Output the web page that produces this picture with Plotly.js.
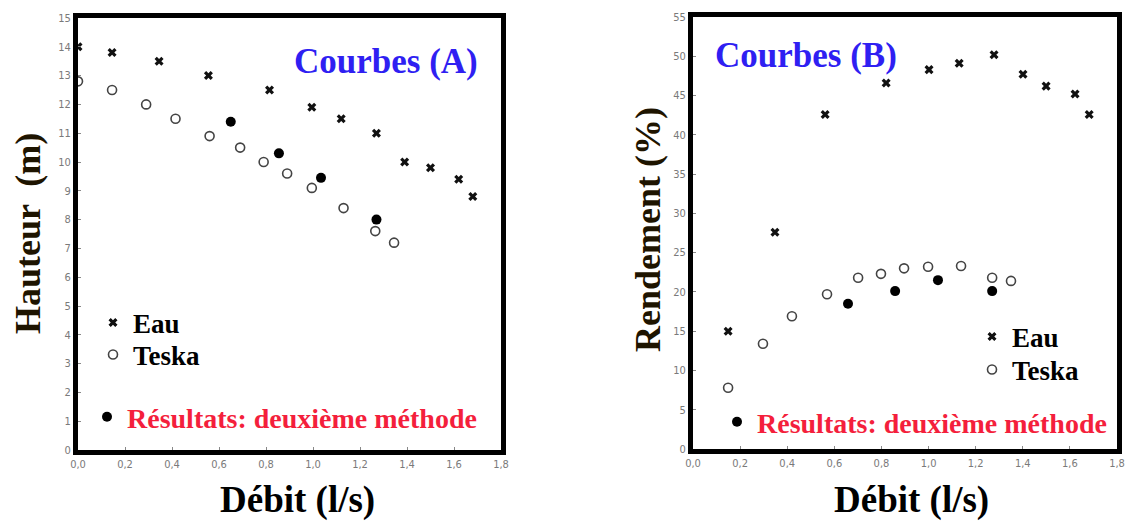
<!DOCTYPE html>
<html>
<head>
<meta charset="utf-8">
<script src="https://cdn.plot.ly/plotly-3.0.1.min.js"></script>
<style>html,body{margin:0;padding:0;background:#fff;}#chart{width:1129px;height:521px;}</style>
</head>
<body>
<div id="chart"></div>
<script>
// ---- Chart A : Hauteur (m) vs Débit (l/s)
const debitEauA = [0.0, 0.145, 0.345, 0.555, 0.815, 0.995, 1.12, 1.27, 1.39, 1.50, 1.62, 1.68];
const hauteurEau = [14.0, 13.8, 13.5, 13.0, 12.5, 11.9, 11.5, 11.0, 10.0, 9.8, 9.4, 8.8];
const debitTeskaA = [0.0, 0.145, 0.29, 0.415, 0.56, 0.69, 0.79, 0.89, 0.995, 1.13, 1.265, 1.345];
const hauteurTeska = [12.8, 12.5, 12.0, 11.5, 10.9, 10.5, 10.0, 9.6, 9.1, 8.4, 7.6, 7.2];
const debitM2A = [0.65, 0.855, 1.034, 1.27];
const hauteurM2 = [11.4, 10.3, 9.45, 8.0];

// ---- Chart B : Rendement (%) vs Débit (l/s)
const debitEauB = [0.149, 0.348, 0.561, 0.820, 1.002, 1.130, 1.278, 1.401, 1.499, 1.622, 1.682];
const rendementEau = [15.0, 27.6, 42.6, 46.6, 48.3, 49.1, 50.2, 47.7, 46.2, 45.2, 42.6];
const debitTeskaB = [0.149, 0.297, 0.420, 0.569, 0.701, 0.798, 0.896, 0.998, 1.138, 1.270, 1.350];
const rendementTeska = [7.8, 13.4, 16.9, 19.7, 21.8, 22.3, 23.0, 23.2, 23.3, 21.8, 21.4];
const debitM2B = [0.658, 0.858, 1.040, 1.270];
const rendementM2 = [18.5, 20.1, 21.5, 20.1];

const labelEau = 'Eau';
const labelTeska = 'Teska';
const labelM2 = 'Résultats: deuxième méthode';
const titleA = 'Courbes (A)';
const titleB = 'Courbes (B)';
const xTitle = 'Débit (l/s)';
const yTitleA = 'Hauteur  (m)';
const yTitleB = 'Rendement (%)';

const W = 1129, H = 521;
const px = v => v / W;
const py = v => (H - v) / H;

const SERIF = 'Liberation Serif, Times New Roman, serif';
const NARROW = 'Liberation Sans Narrow, DejaVu Sans Condensed, Arial Narrow, sans-serif';
const BLUE = '#2f1ff2';
const RED = '#f41f3c';

const mEau = {symbol: 'x', size: 8, color: '#111', line: {width: 0}};
const mTeska = {symbol: 'circle-open', size: 9, color: '#444', line: {width: 1.6, color: '#444'}};
const mM2 = {symbol: 'circle', size: 10, color: '#000'};

const traces = [
  {x: debitEauA, y: hauteurEau, type: 'scatter', mode: 'markers', name: labelEau, marker: mEau, xaxis: 'x', yaxis: 'y', legend: 'legend'},
  {x: debitTeskaA, y: hauteurTeska, type: 'scatter', mode: 'markers', name: labelTeska, marker: mTeska, xaxis: 'x', yaxis: 'y', legend: 'legend2'},
  {x: debitM2A, y: hauteurM2, type: 'scatter', mode: 'markers', name: labelM2, marker: mM2, xaxis: 'x', yaxis: 'y', legend: 'legend3'},
  {x: debitEauB, y: rendementEau, type: 'scatter', mode: 'markers', name: labelEau, marker: mEau, xaxis: 'x2', yaxis: 'y2', legend: 'legend4'},
  {x: debitTeskaB, y: rendementTeska, type: 'scatter', mode: 'markers', name: labelTeska, marker: mTeska, xaxis: 'x2', yaxis: 'y2', legend: 'legend5'},
  {x: debitM2B, y: rendementM2, type: 'scatter', mode: 'markers', name: labelM2, marker: mM2, xaxis: 'x2', yaxis: 'y2', legend: 'legend6'}
];

const tickFont = {family: NARROW, size: 11, color: '#7a7a7a'};
function xAx(dom, anchor) {
  return {domain: dom, anchor: anchor, range: [0, 1.8], dtick: 0.2, tick0: 0, tickformat: '.1f',
    showline: true, linewidth: 5, linecolor: '#000', mirror: true, showgrid: false, zeroline: false,
    ticks: 'inside', ticklen: 3, tickwidth: 1, tickcolor: '#888', tickfont: tickFont};
}
function yAx(dom, anchor, range, dtick) {
  return {domain: dom, anchor: anchor, range: range, dtick: dtick, tick0: 0,
    showline: true, linewidth: 5, linecolor: '#000', mirror: true, showgrid: false, zeroline: false,
    ticks: 'inside', ticklen: 3, tickwidth: 1, tickcolor: '#888', tickfont: tickFont};
}
function leg(x, y, color, size) {
  return {x: x, y: y, xanchor: 'left', yanchor: 'middle', bgcolor: 'rgba(0,0,0,0)', borderwidth: 0,
    font: {family: SERIF, size: size, weight: 700, color: color}};
}

const layout = {
  width: W, height: H,
  margin: {l: 0, r: 0, t: 0, b: 0},
  paper_bgcolor: '#fff', plot_bgcolor: '#fff',
  separators: ', ',
  showlegend: true,
  xaxis: xAx([px(78), px(501)], 'y'),
  yaxis: yAx([py(450), py(18)], 'x', [0, 15], 1),
  xaxis2: xAx([px(693), px(1117)], 'y2'),
  yaxis2: yAx([py(449), py(17)], 'x2', [0, 55], 5),
  legend: leg(px(93), py(323), '#000', 27),
  legend2: leg(px(93), py(355), '#000', 27),
  legend3: leg(px(87), py(417), RED, 28),
  legend4: leg(px(972), py(337), '#000', 27),
  legend5: leg(px(972), py(370), '#000', 27),
  legend6: leg(px(717), py(422), RED, 28),
  annotations: [
    {text: titleA, xref: 'paper', yref: 'paper', x: px(386), y: py(61), xanchor: 'center', yanchor: 'middle', showarrow: false,
     font: {family: SERIF, size: 35, weight: 700, color: BLUE}},
    {text: titleB, xref: 'paper', yref: 'paper', x: px(806), y: py(56), xanchor: 'center', yanchor: 'middle', showarrow: false,
     font: {family: SERIF, size: 35, weight: 700, color: BLUE}},
    {text: xTitle, xref: 'paper', yref: 'paper', x: px(297), y: py(500), xanchor: 'center', yanchor: 'middle', showarrow: false,
     font: {family: SERIF, size: 37, weight: 700, color: '#000'}},
    {text: xTitle, xref: 'paper', yref: 'paper', x: px(911), y: py(500), xanchor: 'center', yanchor: 'middle', showarrow: false,
     font: {family: SERIF, size: 37, weight: 700, color: '#000'}},
    {text: yTitleA, xref: 'paper', yref: 'paper', x: px(28), y: py(234), xanchor: 'center', yanchor: 'middle', textangle: -90, showarrow: false,
     font: {family: SERIF, size: 36, weight: 700, color: '#1e1400'}},
    {text: yTitleB, xref: 'paper', yref: 'paper', x: px(648), y: py(230), xanchor: 'center', yanchor: 'middle', textangle: -90, showarrow: false,
     font: {family: SERIF, size: 36, weight: 700, color: '#1e1400'}}
  ]
};

Plotly.newPlot('chart', traces, layout, {displayModeBar: false, staticPlot: true});
</script>
</body>
</html>
